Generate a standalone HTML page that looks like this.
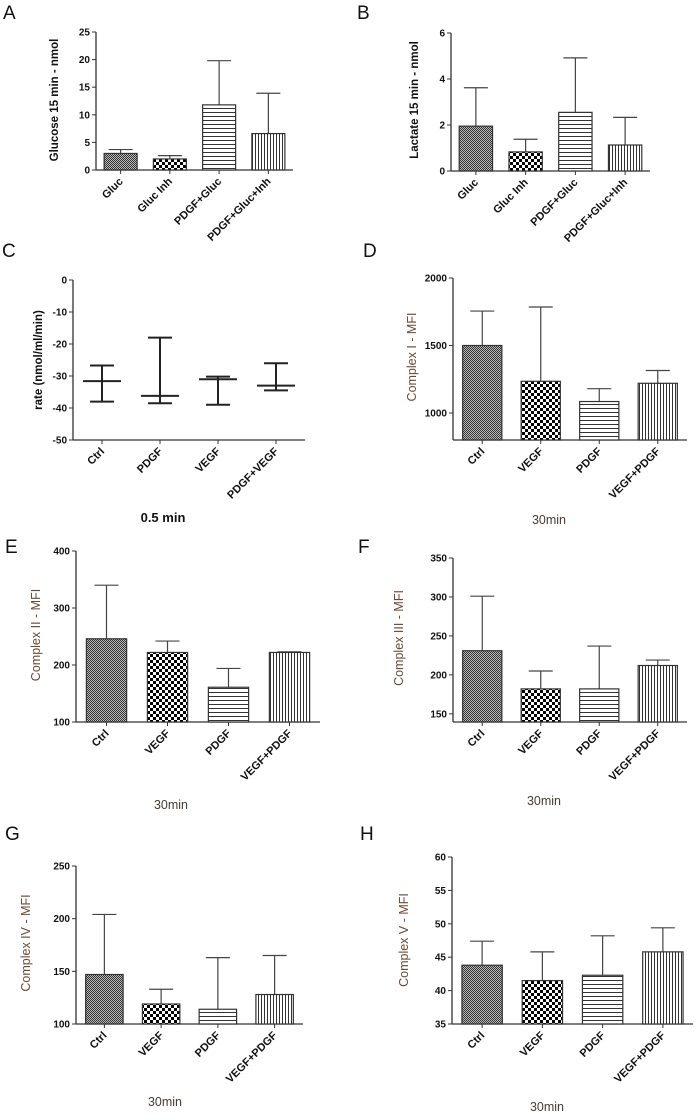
<!DOCTYPE html>
<html><head><meta charset="utf-8">
<style>
html,body{margin:0;padding:0;background:#fff;}
svg{display:block;}
text{font-family:"Liberation Sans",Arial,sans-serif;}
.tick{font-size:10px;font-weight:bold;fill:#111;}
.cat{font-size:11px;font-weight:bold;fill:#111;}
.plabel{font-size:19px;fill:#111;}
</style></head>
<body>
<svg id="fig" width="700" height="1120" viewBox="0 0 700 1120" xmlns="http://www.w3.org/2000/svg">
<defs>
<pattern id="pDots" width="2" height="2" patternUnits="userSpaceOnUse"><rect width="2" height="2" fill="#bbb"/><rect width="1" height="1" fill="#333"/><rect x="1" y="1" width="1" height="1" fill="#333"/></pattern>
<pattern id="pCheck" width="6" height="6" patternUnits="userSpaceOnUse"><rect width="6" height="6" fill="#fff"/><rect width="3" height="3" fill="#000"/><rect x="3" y="3" width="3" height="3" fill="#000"/></pattern>
<pattern id="pH" width="4" height="4" patternUnits="userSpaceOnUse"><rect width="4" height="4" fill="#fff"/><line x1="0" y1="0.5" x2="4" y2="0.5" stroke="#333" stroke-width="1"/></pattern>
<pattern id="pV" width="3" height="3" patternUnits="userSpaceOnUse"><rect width="3" height="3" fill="#fff"/><line x1="0.5" y1="0" x2="0.5" y2="3" stroke="#333" stroke-width="1"/></pattern>
</defs>
<text class="plabel" x="3" y="19">A</text>
<text class="plabel" x="357" y="19">B</text>
<text class="plabel" x="2" y="257">C</text>
<text class="plabel" x="363" y="257">D</text>
<text class="plabel" x="5" y="553">E</text>
<text class="plabel" x="358" y="553">F</text>
<text class="plabel" x="5" y="840">G</text>
<text class="plabel" x="360" y="840">H</text>
</svg>
<script>
// ---- data ----
const aCategories=["Gluc","Gluc Inh","PDGF+Gluc","PDGF+Gluc+Inh"];
const aMeans=[3.0,2.0,11.8,6.6];
const aErrTop=[3.7,2.6,19.8,13.9];
const aTicks=[0,5,10,15,20,25];

const bCategories=["Gluc","Gluc Inh","PDGF+Gluc","PDGF+Gluc+Inh"];
const bMeans=[1.95,0.83,2.55,1.13];
const bErrTop=[3.62,1.38,4.92,2.33];
const bTicks=[0,2,4,6];

const cCategories=["Ctrl","PDGF","VEGF","PDGF+VEGF"];
const cMeans=[-31.6,-36.2,-31.0,-33.0];
const cUpper=[-26.7,-18.0,-30.2,-26.0];
const cLower=[-38.0,-38.5,-39.0,-34.5];
const cTicks=[0,-10,-20,-30,-40,-50];

const dCategories=["Ctrl","VEGF","PDGF","VEGF+PDGF"];
const dMeans=[1500,1235,1085,1220];
const dErrTop=[1755,1785,1180,1315];
const dTicks=[1000,1500,2000];

const eCategories=["Ctrl","VEGF","PDGF","VEGF+PDGF"];
const eMeans=[246,222,161,222];
const eErrTop=[340,242,194,223];
const eTicks=[100,200,300,400];

const fCategories=["Ctrl","VEGF","PDGF","VEGF+PDGF"];
const fMeans=[231,182,182,212];
const fErrTop=[301,205,237,219];
const fTicks=[150,200,250,300,350];

const gCategories=["Ctrl","VEGF","PDGF","VEGF+PDGF"];
const gMeans=[147,119,114,128];
const gErrTop=[204,133,163,165];
const gTicks=[100,150,200,250];

const hCategories=["Ctrl","VEGF","PDGF","VEGF+PDGF"];
const hMeans=[43.8,41.5,42.3,45.8];
const hErrTop=[47.4,45.8,48.2,49.4];
const hTicks=[35,40,45,50,55,60];

const NS="http://www.w3.org/2000/svg";
const svg=document.getElementById('fig');
function mk(tag,attrs,parent){const e=document.createElementNS(NS,tag);for(const k in attrs)e.setAttribute(k,attrs[k]);(parent||svg).appendChild(e);return e;}

function axes(g,cfg,ticks,cats,ys){
  const ax=mk('line',{x1:cfg.x0,y1:cfg.yTop,x2:cfg.x0,y2:cfg.yBot,stroke:'#333','stroke-width':1.3},g);
  
  
  const xx=mk('line',{x1:cfg.x0,y1:cfg.yBot,x2:cfg.x1,y2:cfg.yBot,stroke:'#333','stroke-width':1.3},g);
  
  
  ticks.forEach(t=>{
    const y=ys(t);
    mk('line',{x1:cfg.x0-4,y1:y,x2:cfg.x0,y2:y,stroke:'#333','stroke-width':1},g);
    const tl=mk('text',{x:cfg.x0-6,y:y+3.5,'text-anchor':'end',class:'tick'},g);
    tl.textContent=t;
    
    
  });
  const slot=(cfg.x1-cfg.x0)/cats.length;
  cats.forEach((c,i)=>{
    const cx=cfg.x0+slot*(i+0.5);
    mk('line',{x1:cx,y1:cfg.yBot,x2:cx,y2:cfg.yBot+4,stroke:'#333','stroke-width':1},g);
    const tl=mk('text',{x:cx+3,y:cfg.yBot+12,'text-anchor':'end',class:'cat',transform:`rotate(-45 ${cx+3} ${cfg.yBot+12})`},g);
    tl.textContent=c;
    
    
  });
  const yl=mk('text',{x:cfg.ylx,y:cfg.ylc,'text-anchor':'middle',transform:`rotate(-90 ${cfg.ylx} ${cfg.ylc})`,
    style:cfg.ylBold?'font-size:11.5px;font-weight:bold;fill:#111':'font-size:12.5px;fill:#6b4a32'},g);
  yl.textContent=cfg.ylabel;
  
  
  if(cfg.title){
    const t=mk('text',{x:cfg.tx,y:cfg.ty,'text-anchor':'middle',style:cfg.ylBold?'font-size:13px;font-weight:bold;fill:#111':'font-size:12.5px;fill:#4a3a30'},g);
    t.textContent=cfg.title;
    
    
  }
  return slot;
}

const pats=['url(#pDots)','url(#pCheck)','url(#pH)','url(#pV)'];
function barChart(name,cfg,cats,means,errs,ticks){
  const g=mk('g',{});
  
  
  const ys=v=>cfg.yBot-(v-cfg.min)/(cfg.max-cfg.min)*(cfg.yBot-cfg.yTop);
  const slot=axes(g,cfg,ticks,cats,ys);
  const bw=slot*cfg.bwf;
  cats.forEach((c,i)=>{
    const cx=cfg.x0+slot*(i+0.5);
    const yt=ys(errs[i]),ym=ys(means[i]);
    const el=mk('line',{x1:cx,y1:yt,x2:cx,y2:ym,stroke:'#444','stroke-width':1.2},g);
    
    
    mk('line',{x1:cx-12,y1:yt,x2:cx+12,y2:yt,stroke:'#444','stroke-width':1.2},g);
    const b=mk('rect',{x:cx-bw/2,y:ym,width:bw,height:cfg.yBot-ym,fill:pats[i],stroke:'#333','stroke-width':1.2},g);
    
    
  });
}

barChart('glucose-chart',{x0:96,x1:293,yTop:32,yBot:170,min:0,max:25,bwf:0.67,ylx:58,ylc:100,ylBold:true,ylabel:'Glucose 15 min - nmol'},aCategories,aMeans,aErrTop,aTicks);
barChart('lactate-chart',{x0:451,x1:650,yTop:33,yBot:171,min:0,max:6,bwf:0.67,ylx:418,ylc:100,ylBold:true,ylabel:'Lactate 15 min - nmol'},bCategories,bMeans,bErrTop,bTicks);
barChart('complex-i-chart',{x0:453,x1:687,yTop:278,yBot:440,min:800,max:2000,bwf:0.67,ylx:416,ylc:357,ylabel:'Complex I - MFI',title:'30min',tx:549,ty:524},dCategories,dMeans,dErrTop,dTicks);
barChart('complex-ii-chart',{x0:76,x1:320,yTop:551,yBot:722,min:100,max:400,bwf:0.66,ylx:40,ylc:635,ylabel:'Complex II - MFI',title:'30min',tx:171,ty:809},eCategories,eMeans,eErrTop,eTicks);
barChart('complex-iii-chart',{x0:453,x1:687,yTop:558,yBot:722,min:139.5,max:350,bwf:0.67,ylx:403,ylc:638,ylabel:'Complex III - MFI',title:'30min',tx:544,ty:805},fCategories,fMeans,fErrTop,fTicks);
barChart('complex-iv-chart',{x0:76,x1:303,yTop:866,yBot:1024,min:100,max:250,bwf:0.66,ylx:30,ylc:943,ylabel:'Complex IV - MFI',title:'30min',tx:165,ty:1106},gCategories,gMeans,gErrTop,gTicks);
barChart('complex-v-chart',{x0:452,x1:693,yTop:857,yBot:1024,min:35,max:60,bwf:0.67,ylx:408,ylc:940,ylabel:'Complex V - MFI',title:'30min',tx:547,ty:1111},hCategories,hMeans,hErrTop,hTicks);

// Panel C: mean with upper/lower whiskers
(function(){
  const cfg={x0:73,x1:305,yTop:280,yBot:440,min:-50,max:0,ylx:42,ylc:360,ylBold:true,ylabel:'rate (nmol/ml/min)',title:'0.5 min',tx:163,ty:522};
  const g=mk('g',{});
  
  
  const ys=v=>cfg.yBot-(v-cfg.min)/(cfg.max-cfg.min)*(cfg.yBot-cfg.yTop);
  const slot=axes(g,cfg,cTicks,cCategories,ys);
  cCategories.forEach((c,i)=>{
    const cx=cfg.x0+slot*(i+0.5);
    const yu=ys(cUpper[i]),yl=ys(cLower[i]),ym=ys(cMeans[i]);
    const w=mk('line',{x1:cx,y1:yu,x2:cx,y2:yl,stroke:'#222','stroke-width':2},g);
    
    
    mk('line',{x1:cx-12,y1:yu,x2:cx+12,y2:yu,stroke:'#222','stroke-width':2},g);
    mk('line',{x1:cx-12,y1:yl,x2:cx+12,y2:yl,stroke:'#222','stroke-width':2},g);
    const m=mk('line',{x1:cx-19,y1:ym,x2:cx+19,y2:ym,stroke:'#222','stroke-width':2},g);
    
    
  });
})();
</script>
</body></html>
